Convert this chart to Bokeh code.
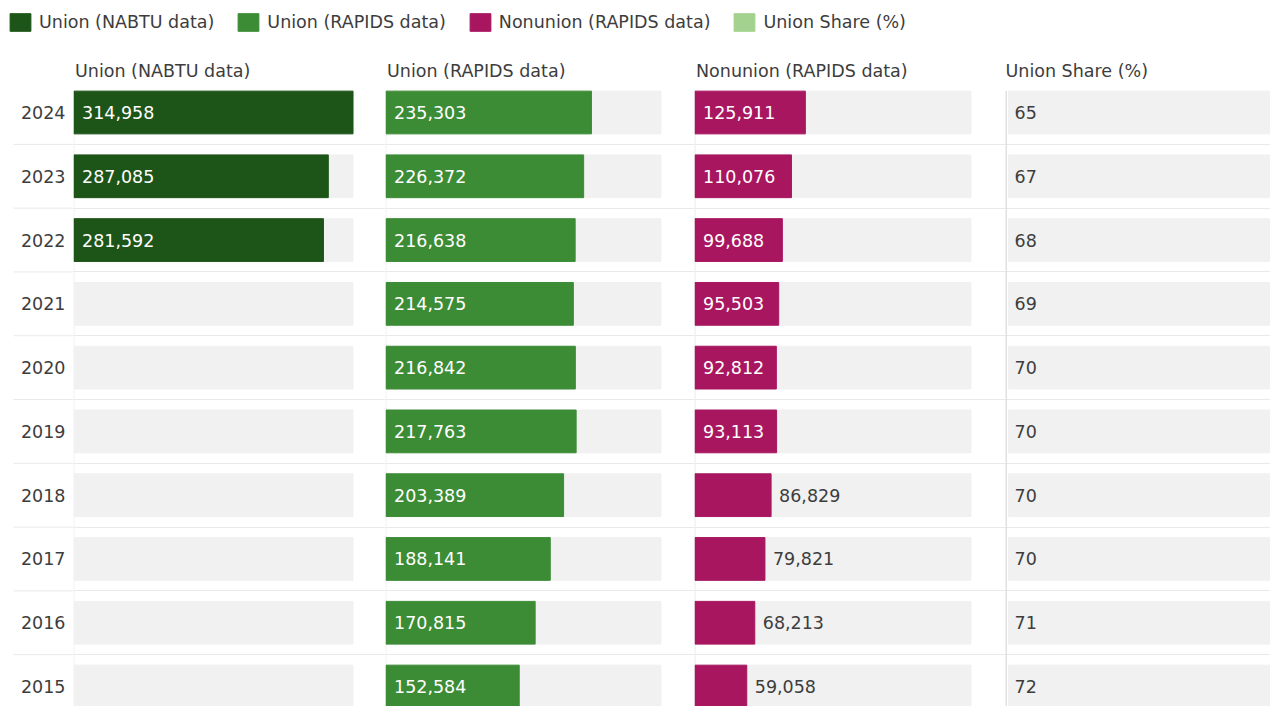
from bokeh.plotting import figure
from bokeh.models import Range1d, Legend, LegendItem
from bokeh.layouts import column, row
from bokeh.embed import file_html
from bokeh.resources import INLINE
from bokeh.core.properties import value

# ---------------- data ----------------
years = [2024, 2023, 2022, 2021, 2020, 2019, 2018, 2017, 2016, 2015]
union_nabtu = [314958, 287085, 281592, None, None, None, None, None, None, None]
union_rapids = [235303, 226372, 216638, 214575, 216842, 217763, 203389, 188141, 170815, 152584]
nonunion_rapids = [125911, 110076, 99688, 95503, 92812, 93113, 86829, 79821, 68213, 59058]
union_share = [65, 67, 68, 69, 70, 70, 70, 70, 71, 72]

series_names = ["Union (NABTU data)", "Union (RAPIDS data)", "Nonunion (RAPIDS data)", "Union Share (%)"]
series_colors = ["#1d5417", "#3c8c36", "#a8165f", "#a3d28e"]

# ---------------- style ----------------
FONT = "DejaVu Sans"
TXT = "#3d3d3d"
TRACK = "#f1f1f1"
SEP = "#e9e9e9"
FS = "17.5px"
VFS = "17.5px"

LEG_H = 56
TABLE_H = 650
Y_TOP, Y_BOT = -0.878, 9.313
BAR_H = 0.67
HEADER_Y = -0.643

MAXV = max(v for s in (union_nabtu, union_rapids, nonunion_rapids) for v in s if v is not None)
idx = list(range(len(years)))
seps = [i + 0.5 for i in idx[:-1]]


def base_fig(w, h, xr, yr):
    p = figure(width=w, height=h, x_range=xr, y_range=yr, output_backend="svg",
               toolbar_location=None, x_axis_location=None, y_axis_location=None,
               min_border=0, min_border_left=0, min_border_right=0,
               min_border_top=0, min_border_bottom=0)
    p.grid.visible = False
    p.outline_line_color = None
    p.background_fill_color = "white"
    p.border_fill_color = "white"
    return p


def bar_col(name, vals, color, fig_w, track_w, vline_color):
    px = MAXV / track_w  # data units per pixel
    p = base_fig(fig_w, TABLE_H, Range1d(-px * 0.5, MAXV * fig_w / track_w - px * 0.5), Range1d(Y_BOT, Y_TOP))
    p.hspan(y=seps, line_color=SEP, line_width=1)
    p.segment(x0=[-px * 0.1], y0=[-0.34], x1=[-px * 0.1], y1=[Y_BOT], line_color=vline_color, line_width=1)
    p.hbar(y=idx, left=0, right=[MAXV] * len(idx), height=BAR_H, color=TRACK)
    yy = [i for i, v in zip(idx, vals) if v is not None]
    vv = [v for v in vals if v is not None]
    p.hbar(y=yy, left=0, right=vv, height=BAR_H, color=color)
    inside = [(i, v) for i, v in zip(yy, vv) if v / px > 80]
    outside = [(i, v) for i, v in zip(yy, vv) if v / px <= 80]
    if inside:
        p.text(x=[0] * len(inside), y=[i for i, _ in inside], text=[f"{v:,}" for _, v in inside],
               x_offset=8, text_baseline="middle", text_align="left", text_color="white",
               text_font=value(FONT), text_font_size=value(VFS))
    if outside:
        p.text(x=[v for _, v in outside], y=[i for i, _ in outside], text=[f"{v:,}" for _, v in outside],
               x_offset=8, text_baseline="middle", text_align="left", text_color=TXT,
               text_font=value(FONT), text_font_size=value(VFS))
    p.text(x=[0], y=[HEADER_Y], text=[name], x_offset=1, text_baseline="middle", text_align="left",
           text_color=TXT, text_font=value(FONT), text_font_size=value(FS))
    return p


# ---------------- legend ----------------
leg_fig = base_fig(1270, LEG_H, Range1d(0, 1), Range1d(0, 1))
items = []
for name, col in zip(series_names, series_colors):
    r = leg_fig.rect(x=[-10], y=[-10], width=0.1, height=0.1, color=col)
    items.append(LegendItem(label=name, renderers=[r]))
legend = Legend(items=items, orientation="horizontal", location=(7, 23),
                glyph_width=26, glyph_height=22, label_standoff=6, spacing=21,
                padding=0, margin=0, border_line_color=None, background_fill_alpha=0,
                label_text_font=FONT, label_text_font_size=FS, label_text_color=TXT,
                label_height=22)
leg_fig.add_layout(legend)

# ---------------- year column ----------------
YW = 73
yf = base_fig(YW, TABLE_H, Range1d(0, YW), Range1d(Y_BOT, Y_TOP))
yf.segment(x0=[13] * len(seps), y0=seps, x1=[YW] * len(seps), y1=seps, line_color=SEP, line_width=1)
yf.text(x=[YW - 8] * len(years), y=idx, text=[str(y) for y in years], text_align="right",
        text_baseline="middle", text_color=TXT, text_font=value(FONT), text_font_size=value(VFS))

c1 = bar_col(series_names[0], union_nabtu, series_colors[0], 312, 279, "#ececec")
c2 = bar_col(series_names[1], union_rapids, series_colors[1], 309, 275, "#ececec")
c3 = bar_col(series_names[2], nonunion_rapids, series_colors[2], 311, 276, "#e4e4e4")

# ---------------- union share column ----------------
W4 = 265
c4 = base_fig(W4, TABLE_H, Range1d(0, W4), Range1d(Y_BOT, Y_TOP))
c4.hspan(y=seps, line_color=SEP, line_width=1)
c4.hbar(y=idx, left=3, right=W4, height=BAR_H, color=TRACK)
c4.segment(x0=[0.5], y0=[-0.34], x1=[0.5], y1=[Y_BOT], line_color="#c4c4c4", line_width=1)
c4.text(x=[0] * len(idx), y=idx, text=[str(v) for v in union_share], x_offset=9,
        text_baseline="middle", text_align="left", text_color=TXT,
        text_font=value(FONT), text_font_size=value(VFS))
c4.text(x=[0], y=[HEADER_Y], text=[series_names[3]], x_offset=0, text_baseline="middle",
        text_align="left", text_color=TXT, text_font=value(FONT), text_font_size=value(FS))

layout = column(leg_fig, row(yf, c1, c2, c3, c4, spacing=0), spacing=0)

open("out.html", "w").write(file_html(layout, INLINE))
